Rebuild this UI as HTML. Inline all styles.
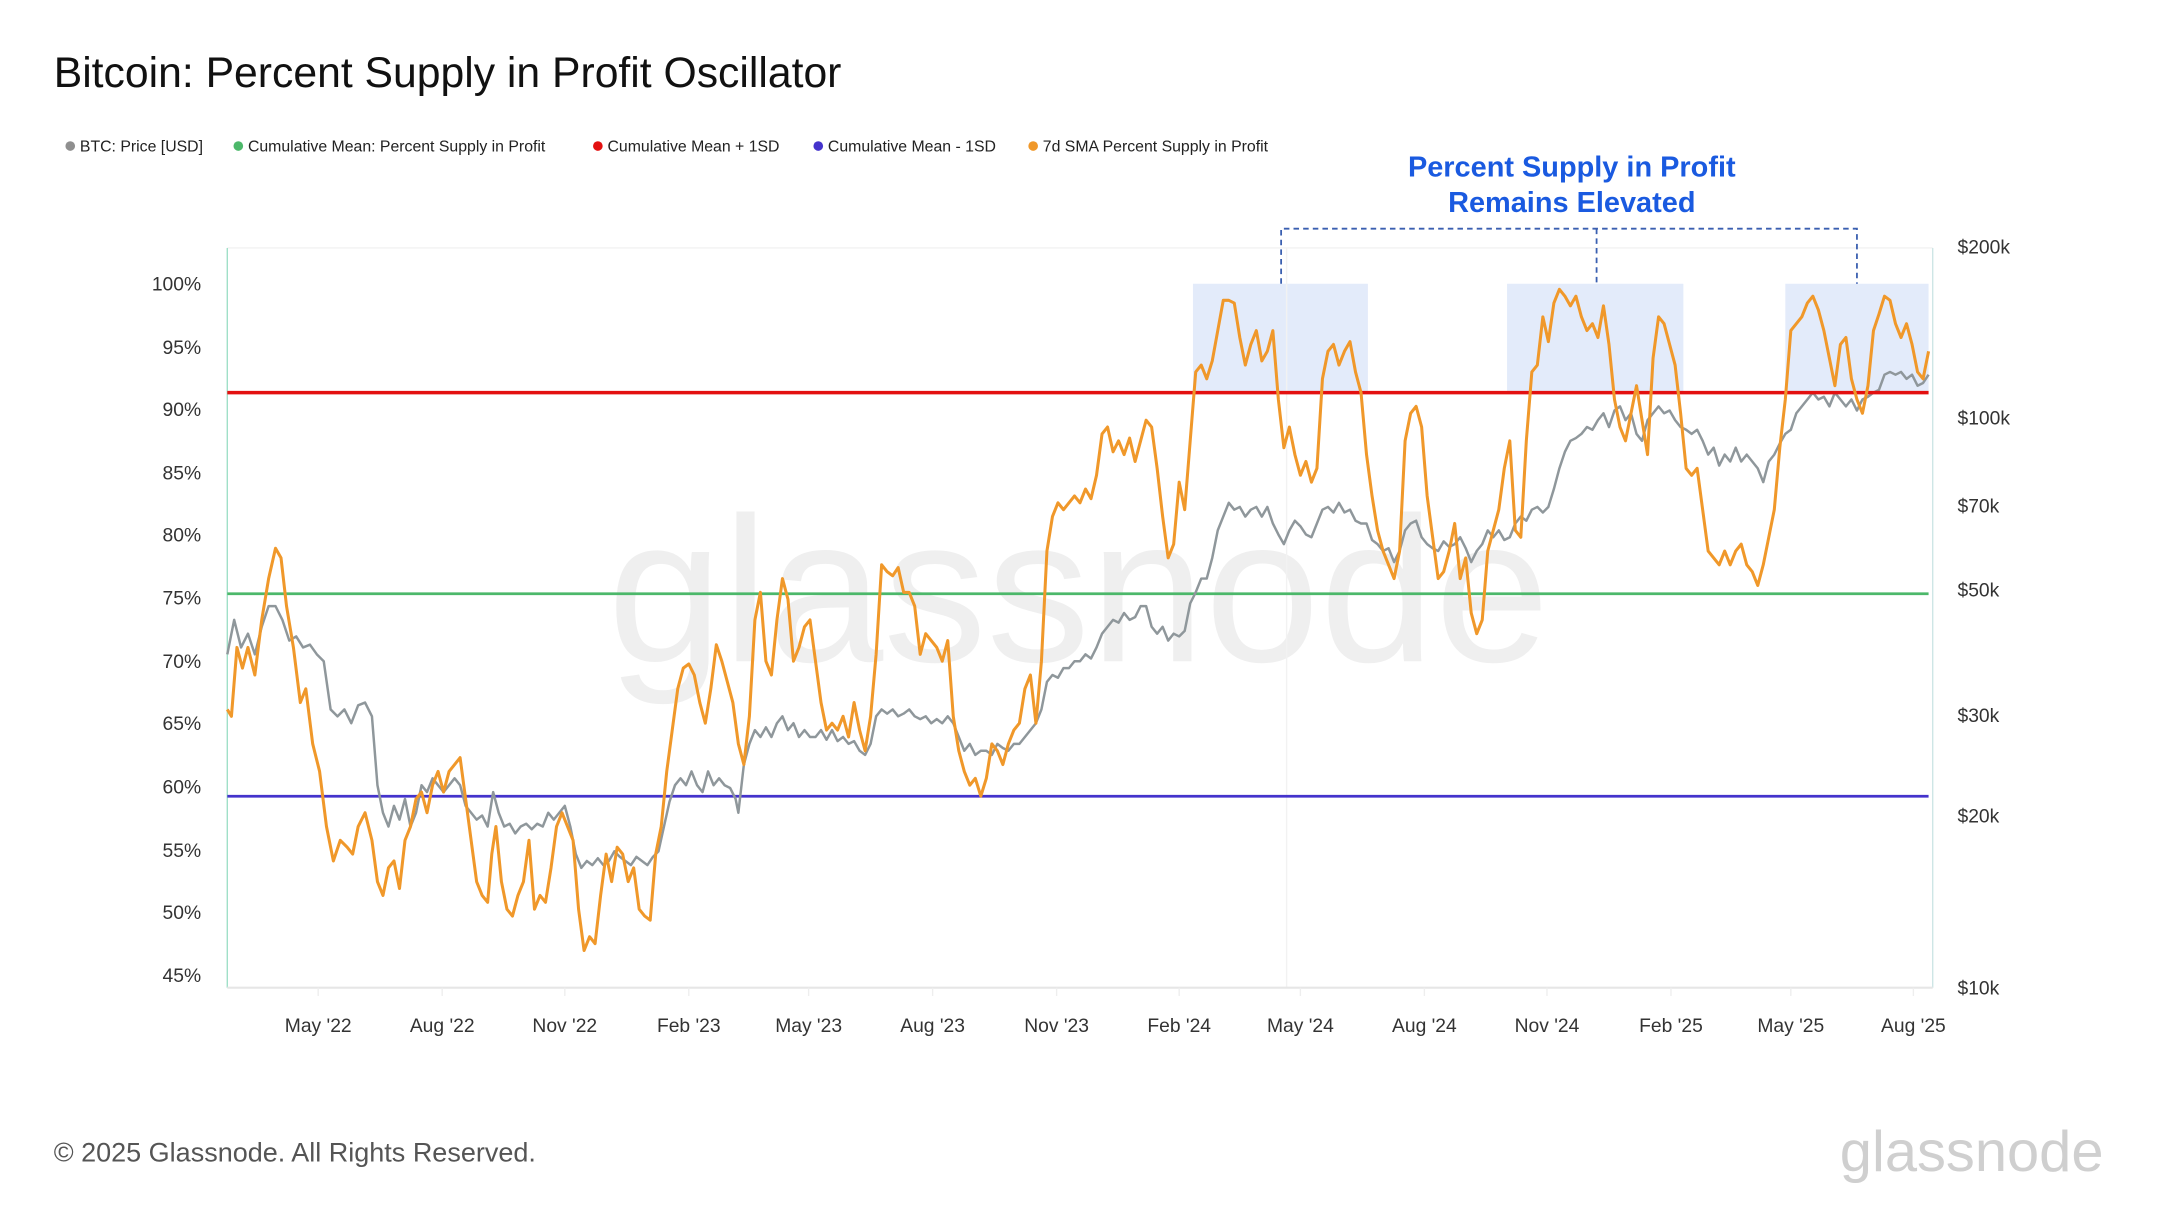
<!DOCTYPE html>
<html><head><meta charset="utf-8"><style>
html,body{margin:0;padding:0;background:#fff;}
svg{display:block;}
text{font-family:"Liberation Sans",sans-serif;}
</style></head><body>
<svg width="2160" height="1215" viewBox="0 0 1568 882" xmlns="http://www.w3.org/2000/svg">
<rect width="1568" height="882" fill="#fff"/>
<text x="39" y="63" font-size="31" fill="#111">Bitcoin: Percent Supply in Profit Oscillator</text>
<g font-size="11.5" fill="#222">
<circle cx="51" cy="106" r="3.5" fill="#8f8f8f"/><text x="58" y="110">BTC: Price [USD]</text>
<circle cx="173" cy="106" r="3.5" fill="#4cb86a"/><text x="180" y="110">Cumulative Mean: Percent Supply in Profit</text>
<circle cx="434" cy="106" r="3.5" fill="#e31010"/><text x="441" y="110">Cumulative Mean + 1SD</text>
<circle cx="594" cy="106" r="3.5" fill="#4433cc"/><text x="601" y="110">Cumulative Mean - 1SD</text>
<circle cx="750" cy="106" r="3.5" fill="#f0982a"/><text x="757" y="110">7d SMA Percent Supply in Profit</text>
</g>
<!-- watermark -->
<text x="783" y="480" font-size="150" fill="#efefef" text-anchor="middle">glassnode</text>
<!-- shaded -->
<g fill="#e3ebfa">
<rect x="866" y="206" width="127" height="79"/>
<rect x="1094" y="206" width="128" height="79"/>
<rect x="1296" y="206" width="104" height="79"/>
</g>
<!-- grid -->
<g stroke="#f2f2f2" stroke-width="1">
<line x1="165" y1="180" x2="1403" y2="180"/>
<line x1="934" y1="180" x2="934" y2="717"/>
</g>
<line x1="165" y1="180" x2="165" y2="717" stroke="#9fe0c8" stroke-width="1"/>
<line x1="1403" y1="180" x2="1403" y2="717" stroke="#cde6e6" stroke-width="1"/>
<line x1="165" y1="717" x2="1403" y2="717" stroke="#e6e6e6" stroke-width="1.5"/>
<g stroke="#eee">
<line x1="231" y1="717" x2="231" y2="723"/><line x1="321" y1="717" x2="321" y2="723"/><line x1="410" y1="717" x2="410" y2="723"/><line x1="500" y1="717" x2="500" y2="723"/><line x1="587" y1="717" x2="587" y2="723"/><line x1="677" y1="717" x2="677" y2="723"/><line x1="767" y1="717" x2="767" y2="723"/><line x1="856" y1="717" x2="856" y2="723"/><line x1="944" y1="717" x2="944" y2="723"/><line x1="1034" y1="717" x2="1034" y2="723"/><line x1="1123" y1="717" x2="1123" y2="723"/><line x1="1213" y1="717" x2="1213" y2="723"/><line x1="1300" y1="717" x2="1300" y2="723"/><line x1="1389" y1="717" x2="1389" y2="723"/>
</g>
<!-- left axis -->
<g font-size="14" fill="#333" text-anchor="end">
<text x="146" y="211">100%</text><text x="146" y="257">95%</text><text x="146" y="302">90%</text><text x="146" y="348">85%</text><text x="146" y="393">80%</text><text x="146" y="439">75%</text><text x="146" y="485">70%</text><text x="146" y="530">65%</text><text x="146" y="576">60%</text><text x="146" y="622">55%</text><text x="146" y="667">50%</text><text x="146" y="713">45%</text>
</g>
<g font-size="14" fill="#333">
<text x="1421" y="184">$200k</text><text x="1421" y="308">$100k</text><text x="1421" y="372">$70k</text><text x="1421" y="433">$50k</text><text x="1421" y="524">$30k</text><text x="1421" y="597">$20k</text><text x="1421" y="722">$10k</text>
</g>
<g font-size="14" fill="#333" text-anchor="middle">
<text x="231" y="749">May '22</text><text x="321" y="749">Aug '22</text><text x="410" y="749">Nov '22</text><text x="500" y="749">Feb '23</text><text x="587" y="749">May '23</text><text x="677" y="749">Aug '23</text><text x="767" y="749">Nov '23</text><text x="856" y="749">Feb '24</text><text x="944" y="749">May '24</text><text x="1034" y="749">Aug '24</text><text x="1123" y="749">Nov '24</text><text x="1213" y="749">Feb '25</text><text x="1300" y="749">May '25</text><text x="1389" y="749">Aug '25</text>
</g>
<!-- horizontal lines -->
<line x1="165" y1="431" x2="1400" y2="431" stroke="#4cb86a" stroke-width="2"/>
<line x1="165" y1="578" x2="1400" y2="578" stroke="#4433cc" stroke-width="2"/>
<!-- price -->
<polyline fill="none" stroke="#8f979b" stroke-width="1.8" stroke-linejoin="round" points="165,475 170,450 175,470 180,460 185,475 190,455 195,440 200,440 205,450 210,465 215,462 220,470 225,468 230,475 235,480 240,515 245,520 250,515 255,525 260,512 265,510 270,520 274,570 278,590 282,600 286,585 290,595 294,580 298,600 302,590 306,570 310,575 314,565 318,570 322,575 326,570 330,565 334,570 338,585 342,590 346,595 350,592 354,600 358,575 362,590 366,600 370,598 374,605 378,600 382,598 386,602 390,598 394,600 398,590 402,595 406,590 410,585 414,600 418,620 422,630 426,625 430,628 434,623 438,628 442,625 446,618 450,622 454,625 458,628 462,622 466,625 470,628 474,622 478,618 482,600 486,582 490,570 494,565 498,570 502,560 506,570 510,575 514,560 518,570 522,565 526,570 530,572 534,580 536,590 540,555 544,540 548,530 552,535 556,528 560,535 564,525 568,520 572,530 576,525 580,535 584,530 588,535 592,535 596,530 600,537 604,530 608,538 612,535 616,540 620,538 624,545 628,548 632,540 636,520 640,515 644,518 648,515 652,520 656,518 660,515 664,520 668,522 672,520 676,525 680,522 684,525 688,520 692,525 696,535 700,545 704,540 708,548 712,545 716,545 720,548 724,540 728,543 732,545 736,540 740,540 744,535 748,530 752,525 756,515 760,495 764,490 768,492 772,485 776,485 780,480 784,480 788,475 792,478 796,470 800,460 804,455 808,450 812,452 816,445 820,450 824,448 828,440 832,440 836,455 840,460 844,455 848,465 852,460 856,462 860,458 864,438 868,430 872,420 876,420 880,405 884,385 888,375 892,365 896,370 900,368 904,375 908,370 912,368 916,375 920,368 924,380 928,388 932,395 936,385 940,378 944,382 948,388 952,390 956,380 960,370 964,368 968,372 972,365 976,372 980,370 984,378 988,380 992,380 996,392 1000,395 1004,400 1008,398 1012,408 1016,400 1020,385 1024,380 1028,378 1032,390 1036,395 1040,398 1044,400 1048,393 1052,397 1056,395 1060,390 1064,398 1068,408 1072,400 1076,395 1080,385 1084,390 1088,385 1092,392 1096,390 1100,380 1104,375 1108,378 1112,370 1116,368 1120,372 1124,368 1128,355 1132,340 1136,328 1140,320 1144,318 1148,315 1152,310 1156,312 1160,305 1164,300 1168,310 1172,298 1176,295 1180,305 1184,300 1188,315 1192,320 1196,305 1200,300 1204,295 1208,300 1212,298 1216,305 1220,310 1224,312 1228,315 1232,312 1236,320 1240,330 1244,325 1248,338 1252,330 1256,335 1260,325 1264,335 1268,330 1272,335 1276,340 1280,350 1284,335 1288,330 1292,322 1296,315 1300,312 1304,300 1308,295 1312,290 1316,285 1320,290 1324,288 1328,295 1332,285 1336,290 1340,295 1344,290 1348,298 1352,290 1356,288 1360,285 1364,283 1368,272 1372,270 1376,272 1380,270 1384,275 1388,272 1392,280 1396,278 1400,272"/>
<line x1="165" y1="285" x2="1400" y2="285" stroke="#e31010" stroke-width="2.5"/>
<!-- orange -->
<polyline fill="none" stroke="#f0982a" stroke-width="2.2" stroke-linejoin="round" points="165,515 168,520 172,470 176,485 180,470 185,490 190,450 195,420 200,398 204,405 208,440 213,470 218,510 222,500 227,540 232,560 237,600 242,625 247,610 252,615 256,620 260,600 265,590 270,610 274,640 278,650 282,630 286,625 290,645 294,610 298,600 302,580 306,575 310,590 314,570 318,560 322,575 326,560 330,555 334,550 338,580 342,610 346,640 350,650 354,655 357,620 360,600 364,640 368,660 372,665 376,650 380,640 384,610 388,660 392,650 396,655 400,630 404,600 408,590 412,600 416,610 420,660 424,690 428,680 432,685 436,650 440,620 444,640 448,615 452,620 456,640 460,630 464,660 468,665 472,668 476,620 480,600 484,560 488,530 492,500 496,485 500,482 504,490 508,510 512,525 516,500 520,468 524,480 528,495 532,510 536,540 540,555 544,520 548,450 552,430 556,480 560,490 564,450 568,420 572,435 576,480 580,470 584,455 588,450 592,480 596,510 600,530 604,525 608,530 612,520 616,535 620,510 624,530 628,545 632,520 636,475 640,410 644,415 648,418 652,412 656,430 660,430 664,440 668,475 672,460 676,465 680,470 684,480 688,465 692,520 696,545 700,560 704,570 708,565 712,578 716,565 720,540 724,545 728,555 732,540 736,530 740,525 744,500 748,490 752,525 756,480 760,400 764,375 768,365 772,370 776,365 780,360 784,365 788,355 792,362 796,345 800,315 804,310 808,328 812,320 816,330 820,318 824,335 828,320 832,305 836,310 840,340 844,375 848,405 852,395 856,350 860,370 864,320 868,270 872,265 876,275 880,262 884,240 888,218 892,218 896,220 900,245 904,265 908,250 912,240 916,262 920,255 924,240 928,290 932,325 936,310 940,330 944,345 948,335 952,350 956,340 960,275 964,255 968,250 972,265 976,255 980,248 984,270 988,285 992,330 996,360 1000,385 1004,400 1008,410 1012,420 1016,400 1020,320 1024,300 1028,295 1032,310 1036,360 1040,390 1044,420 1048,415 1052,400 1056,380 1060,420 1064,405 1068,445 1072,460 1076,450 1080,400 1084,385 1088,370 1092,340 1096,320 1100,385 1104,390 1108,320 1112,270 1116,265 1120,230 1124,248 1128,220 1132,210 1136,215 1140,222 1144,215 1148,230 1152,240 1156,235 1160,245 1164,222 1168,250 1172,290 1176,310 1180,320 1184,300 1188,280 1192,305 1196,330 1200,260 1204,230 1208,235 1212,250 1216,265 1220,300 1224,340 1228,345 1232,340 1236,370 1240,400 1244,405 1248,410 1252,400 1256,410 1260,400 1264,395 1268,410 1272,415 1276,425 1280,410 1284,390 1288,370 1292,325 1296,290 1300,240 1304,235 1308,230 1312,220 1316,215 1320,225 1324,240 1328,260 1332,280 1336,250 1340,245 1344,275 1348,290 1352,300 1356,280 1360,240 1364,228 1368,215 1372,218 1376,235 1380,245 1384,235 1388,250 1392,270 1396,275 1400,255"/>
<!-- annotation -->
<g fill="none" stroke="#3a5fb0" stroke-width="1.3" stroke-dasharray="4,3">
<polyline points="930,206 930,166 1348,166 1348,206"/>
<line x1="1159" y1="166" x2="1159" y2="206"/>
</g>
<g font-size="21" font-weight="bold" fill="#1a5ae0" text-anchor="middle">
<text x="1141" y="128">Percent Supply in Profit</text>
<text x="1141" y="154">Remains Elevated</text>
</g>
<text x="39" y="843" font-size="19.6" fill="#555">© 2025 Glassnode. All Rights Reserved.</text>
<text x="1527" y="850" font-size="42" fill="#cfcfcf" text-anchor="end">glassnode</text>
</svg>
</body></html>
